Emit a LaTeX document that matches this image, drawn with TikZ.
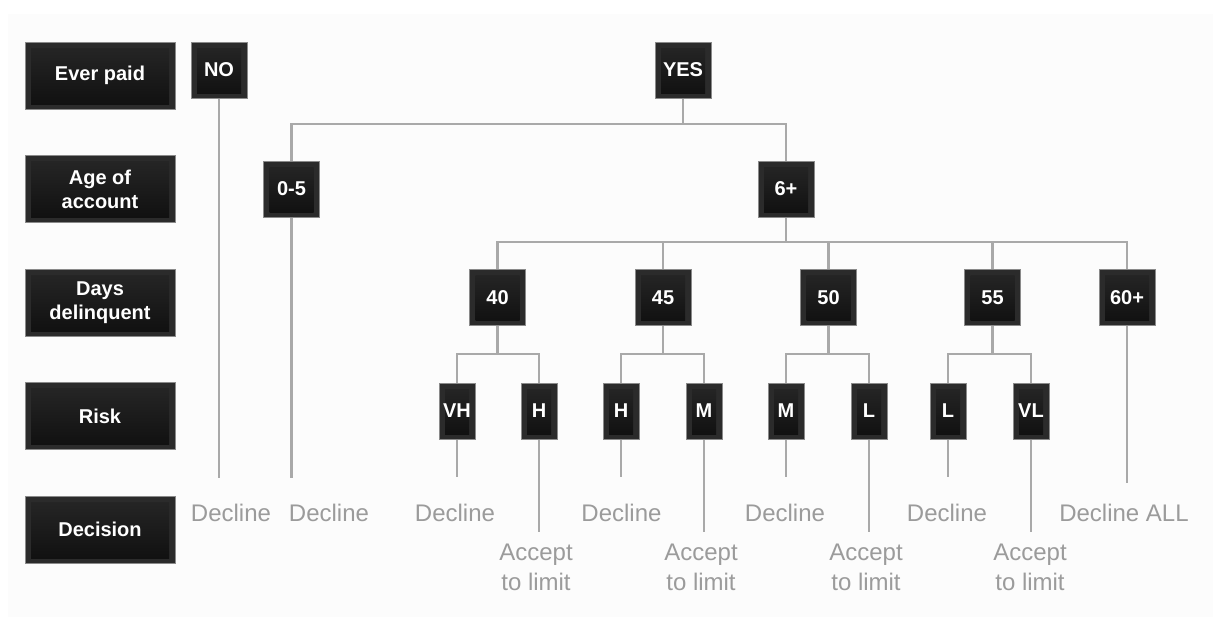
\documentclass[tikz,border=0pt]{standalone}
\usepackage{fontspec}
\setmainfont{Liberation Sans}
\definecolor{bandc}{HTML}{2B2B2B}
\definecolor{edgec}{HTML}{8A8A8A}
\definecolor{topc}{HTML}{272727}
\definecolor{botc}{HTML}{0F0F0F}
\definecolor{linec}{HTML}{A9A9A9}
\definecolor{txtc}{HTML}{9B9B9B}
\definecolor{bgc}{HTML}{FCFCFC}
\tikzset{
  darkbox/.style={draw=edgec, line width=0.5pt, fill=bandc, text=white,
    font=\fontsize{10pt}{12pt}\selectfont\bfseries, align=center, inner sep=0pt,
    path picture={\shade[top color=topc,bottom color=botc]
      ([shift={(3pt,-3pt)}]path picture bounding box.north west) rectangle
      ([shift={(-3pt,2.5pt)}]path picture bounding box.south east);}},
  hdr/.style={darkbox, minimum width=75pt, minimum height=33.5pt},
  sqbox/.style={darkbox, minimum width=28pt, minimum height=28pt},
  riskbox/.style={darkbox, minimum width=18pt, minimum height=28pt},
  conn/.style={draw=linec, line width=1.3pt},
  dectext/.style={text=txtc, font=\fontsize{12pt}{15pt}\selectfont, align=center, inner sep=0pt, anchor=base}
}
\begin{document}
\begin{tikzpicture}[x=0.5pt,y=-0.5pt]
\useasboundingbox (0,0) rectangle (1213,617);
\fill[bgc] (8,14) rectangle (1213,617);
% header column
\node[hdr] (h1) at (100,75.5) {Ever paid};
\node[hdr] (h2) at (100,189) {Age of\\account};
\node[hdr] (h3) at (100,302.5) {Days\\delinquent};
\node[hdr] (h4) at (100,416) {Risk};
\node[hdr] (h5) at (100,529.5) {Decision};
% level 1
\node[sqbox] (no) at (219,70) {NO};
\node[sqbox] (yes) at (683,70) {YES};
% level 2
\node[sqbox] (a05) at (291.5,189) {0-5};
\node[sqbox] (a6) at (786,189) {6+};
% level 3
\node[sqbox] (d40) at (497.5,297.5) {40};
\node[sqbox] (d45) at (663,297.5) {45};
\node[sqbox] (d50) at (828.5,297.5) {50};
\node[sqbox] (d55) at (992.5,297.5) {55};
\node[sqbox] (d60) at (1127,297.5) {60+};
% level 4
\node[riskbox] (r1) at (457,411) {VH};
\node[riskbox] (r2) at (539,411) {H};
\node[riskbox] (r3) at (621,411) {H};
\node[riskbox] (r4) at (704,411) {M};
\node[riskbox] (r5) at (786,411) {M};
\node[riskbox] (r6) at (869,411) {L};
\node[riskbox] (r7) at (948,411) {L};
\node[riskbox] (r8) at (1031,411) {VL};
% connectors level 1 -> 2
\draw[conn] (yes.south) -- (683,124) -| (a05.north);
\draw[conn] (683,124) -| (a6.north);
% level 2 -> 3
\draw[conn] (a6.south) -- (786,242) -| (d40.north);
\draw[conn] (786,242) -| (d60.north);
\draw[conn] (d45.north) -- (663,242);
\draw[conn] (d50.north) -- (828.5,242);
\draw[conn] (d55.north) -- (992.5,242);
% level 3 -> 4
\foreach \p/\l/\r in {d40/r1/r2, d45/r3/r4, d50/r5/r6, d55/r7/r8}{
  \draw[conn] (\p.south) -- ++(0,28) coordinate (\p-j);
  \draw[conn] (\l.north) |- (\p-j) -| (\r.north);
}
% free ends
\coordinate (eno) at (219,478);
\coordinate (e05) at (291.5,478);
\coordinate (e60) at (1127,483);
\foreach \n/\x in {r1/457, r3/621, r5/786, r7/948}{
  \coordinate (e\n) at (\x,477);
}
\foreach \n/\x in {r2/539, r4/704, r6/869, r8/1031}{
  \coordinate (e\n) at (\x,532);
}
\draw[conn] (no.south) -- (eno);
\draw[conn] (a05.south) -- (e05);
\draw[conn] (d60.south) -- (e60);
\foreach \n in {r1,r2,r3,r4,r5,r6,r7,r8}{
  \draw[conn] (\n.south) -- (e\n);
}
% decision texts
\node[dectext] (t1) at (231,521) {Decline};
\node[dectext] (t2) at (329,521) {Decline};
\node[dectext] (t3) at (455,521) {Decline};
\node[dectext] (t4) at (621.5,521) {Decline};
\node[dectext] (t5) at (785,521) {Decline};
\node[dectext] (t6) at (947,521) {Decline};
\node[dectext] (t7) at (1124,521) {Decline ALL};
\node[dectext] (u1) at (536,590) {Accept\\to limit};
\node[dectext] (u2) at (701,590) {Accept\\to limit};
\node[dectext] (u3) at (866,590) {Accept\\to limit};
\node[dectext] (u4) at (1030,590) {Accept\\to limit};
\end{tikzpicture}
\end{document}
